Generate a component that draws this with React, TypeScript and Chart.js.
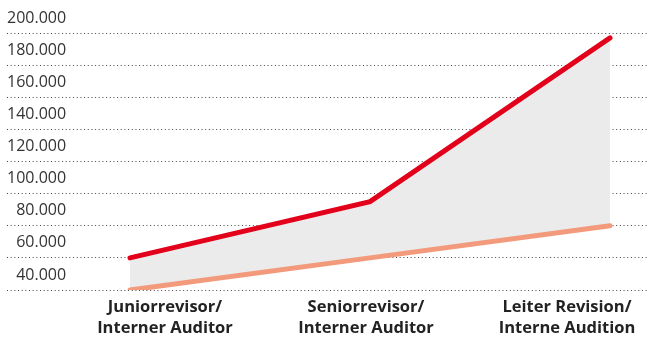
import React, { useEffect, useRef } from "react";
import { Chart, registerables } from "chart.js";

Chart.register(...registerables);

const categories: string[][] = [
  ["Juniorrevisor/", "Interner Auditor"],
  ["Seniorrevisor/", "Interner Auditor"],
  ["Leiter Revision/", "Interne Audition"],
];
const maxSalary = [60000, 95000, 197000];
const minSalary = [40000, 60000, 80000];
const yTicks = [40000, 60000, 80000, 100000, 120000, 140000, 160000, 180000, 200000];

const fmt = (v: number) => v.toLocaleString("de-DE");

export default function App() {
  const ref = useRef<HTMLCanvasElement | null>(null);
  useEffect(() => {
    document.body.style.margin = "0";
    const ctx = ref.current!;
    const chart = new Chart(ctx, {
      type: "line",
      data: {
        datasets: [
          {
            label: "max",
            data: maxSalary.map((y, i) => ({ x: i, y })),
            borderColor: "#e3001b",
            borderWidth: 5,
            backgroundColor: "#ebebeb",
            fill: "+1",
            pointRadius: 0,
            borderCapStyle: "round",
            borderJoinStyle: "miter",
            tension: 0,
            order: 2,
          },
          {
            label: "min",
            data: minSalary.map((y, i) => ({ x: i, y })),
            borderColor: "#f29a7b",
            borderWidth: 5,
            fill: false,
            pointRadius: 0,
            borderCapStyle: "round",
            tension: 0,
            order: 1,
          },
        ],
      },
      options: {
        animation: false,
        responsive: false,
        layout: { padding: { left: 7, right: 0, top: 33, bottom: 3 } },
        plugins: { legend: { display: false }, tooltip: { enabled: false } },
        scales: {
          x: { type: "linear", display: false, min: -0.5125, max: 2.1583 },
          xl: {
            type: "linear",
            position: "bottom",
            min: -0.786,
            max: 2.403,
            afterBuildTicks: (axis: any) => {
              axis.ticks = categories.map((_, i) => ({ value: i }));
            },
            ticks: {
              autoSkip: false,
              maxRotation: 0,
              padding: 7,
              color: "#222",
              font: { family: "Open Sans", size: 16.5, weight: "bold", lineHeight: 21 / 16.5 },
              callback: (v: any) => categories[v as number] ?? "",
            },
            grid: { display: false, drawTicks: false },
            border: { display: false },
          },
          y: {
            type: "linear",
            min: 40000,
            max: 200000,
            afterBuildTicks: (axis: any) => {
              axis.ticks = yTicks.map((value) => ({ value }));
            },
            ticks: {
              mirror: true,
              crossAlign: "far",
              padding: 0,
              labelOffset: -15,
              color: "#333",
              font: { family: "Open Sans", size: 16 },
              callback: (v: any) => fmt(v as number),
            },
            grid: { color: "#444", lineWidth: 1, drawTicks: false },
            border: { display: false, dash: [1, 2.67] },
          },
        },
      } as any,
    });
    return () => chart.destroy();
  }, []);
  return (
    <div style={{ width: 648, height: 349 }}>
      <canvas ref={ref} width={648} height={349} />
    </div>
  );
}
